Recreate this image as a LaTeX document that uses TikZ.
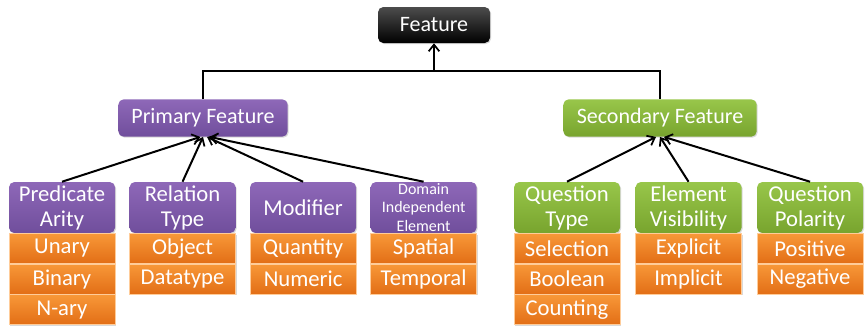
\documentclass[tikz,border=0pt]{standalone}
\usepackage{fontspec}
\setmainfont{Carlito}
\usepackage{tikz}
\usetikzlibrary{arrows.meta, positioning, shadows}

\definecolor{purpTop}{RGB}{142,104,184}
\definecolor{purpBot}{RGB}{112,78,156}
\definecolor{grnTop}{RGB}{152,198,74}
\definecolor{grnBot}{RGB}{120,164,46}
\definecolor{orgTop}{RGB}{248,152,56}
\definecolor{orgBot}{RGB}{226,110,22}

\begin{document}
\begin{tikzpicture}[
  x=0.75pt, y=0.75pt,
  node distance=0pt and 10.5pt,
  base/.style={rectangle, text=white, align=center, inner sep=1pt,
             drop shadow={opacity=0.3, shadow xshift=0.8pt, shadow yshift=-0.8pt}},
  rootbox/.style={base, rounded corners=4pt, top color=black!70, bottom color=black,
             minimum width=84pt, minimum height=27pt, font=\fontsize{16.5}{18}\selectfont},
  primbox/.style={base, rounded corners=4pt, top color=purpTop, bottom color=purpBot,
             minimum width=127pt, minimum height=28pt, font=\fontsize{16.5}{18}\selectfont},
  secbox/.style={primbox, top color=grnTop, bottom color=grnBot, minimum width=145pt},
  headbox/.style={base, rounded corners=4pt, top color=purpTop, bottom color=purpBot,
             minimum width=79.5pt, text width=77pt, minimum height=38.25pt,
             font=\fontsize{17}{18.75}\selectfont},
  sheadbox/.style={headbox, top color=grnTop, bottom color=grnBot},
  valbox/.style={base, top color=orgTop, bottom color=orgBot, draw=orange!40,
             line width=0.4pt, minimum width=79.5pt, minimum height=22.5pt,
             font=\fontsize{17}{18}\selectfont},
  link/.style={line width=1.5pt, black},
  arrow/.style={link, -{Straight Barb[length=5pt, width=8pt, line width=1.3pt]}}
]
\useasboundingbox (0,0) rectangle (867,-325);

% top level
\node[rootbox] (feat) at (434,-25) {Feature};
\node[primbox] (prim) at (203,-118) {Primary Feature};
\node[secbox] (sec) at (660,-118) {Secondary Feature};

% primary feature children
\node[headbox] (arity) at (62,-207.5) {Predicate\\Arity};
\node[headbox, right=of arity] (reltype) {Relation\\Type};
\node[headbox, right=of reltype] (modif) {Modifier};
\node[headbox, right=of modif, font=\fontsize{12}{13.8}\selectfont] (domain) {Domain\\Independent\\Element};

\node[valbox, below=of arity] (unary) {Unary};
\node[valbox, below=of unary] (binary) {Binary};
\node[valbox, below=of binary] (nary) {N-ary};
\node[valbox, below=of reltype] (object) {Object};
\node[valbox, below=of object] (datatype) {Datatype};
\node[valbox, below=of modif] (quantity) {Quantity};
\node[valbox, below=of quantity] (numeric) {Numeric};
\node[valbox, below=of domain] (spatial) {Spatial};
\node[valbox, below=of spatial] (temporal) {Temporal};

% secondary feature children
\node[sheadbox] (qtype) at (567,-207.5) {Question\\Type};
\node[sheadbox, right=11.25pt of qtype] (visib) {Element\\Visibility};
\node[sheadbox, right=11.25pt of visib] (polar) {Question\\Polarity};

\node[valbox, below=of qtype] (select) {Selection};
\node[valbox, below=of select] (boolean) {Boolean};
\node[valbox, below=of boolean] (count) {Counting};
\node[valbox, below=of visib] (explicit) {Explicit};
\node[valbox, below=of explicit] (implicit) {Implicit};
\node[valbox, below=of polar] (positive) {Positive};
\node[valbox, below=of positive] (negative) {Negative};

% connectors
\coordinate (join) at (feat.south |- 0,-71);
\draw[link] (prim.north) |- (join) -| (sec.north);
\draw[arrow] (join) -- (feat.south);

\draw[arrow] (arity.north) -- ([xshift=-2pt]prim.south);
\draw[arrow] (reltype.north) -- ([xshift=0pt]prim.south);
\draw[arrow] (modif.north) -- ([xshift=3pt]prim.south);
\draw[arrow] (domain.north) -- ([xshift=5pt]prim.south);

\draw[arrow] (qtype.north) -- ([xshift=-3pt]sec.south);
\draw[arrow] (visib.north) -- ([xshift=0pt]sec.south);
\draw[arrow] (polar.north) -- ([xshift=3pt]sec.south);

\end{tikzpicture}
\end{document}
